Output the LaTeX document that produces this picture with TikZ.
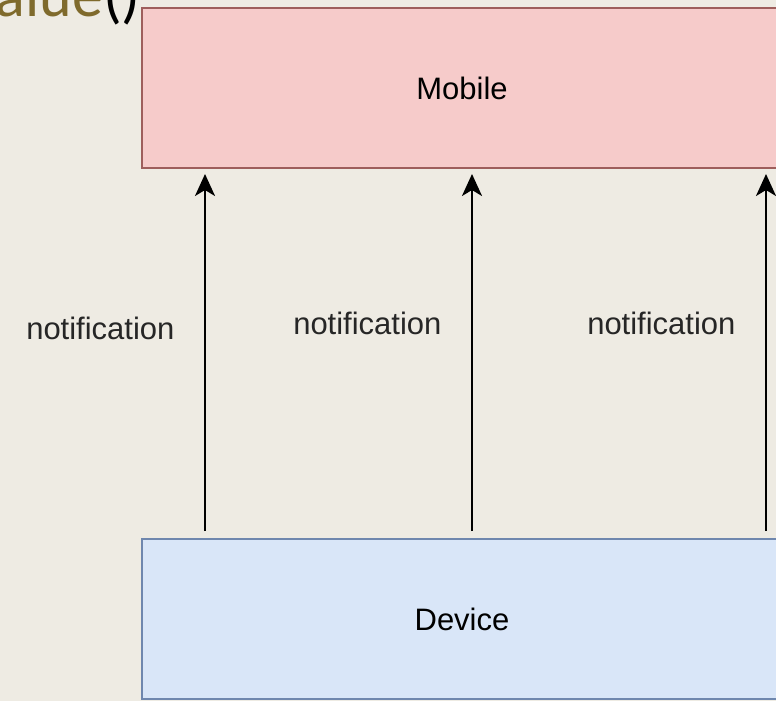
\documentclass[tikz,border=0pt]{standalone}
\usepackage{fontspec}
\setmainfont{Liberation Sans}
\newfontfamily\slidefont{Carlito}
\usetikzlibrary{arrows.meta,positioning}
\definecolor{slide}{HTML}{EEEBE3}
\definecolor{olive}{HTML}{7F6A2C}
\definecolor{mobfill}{HTML}{F6CBCA}
\definecolor{mobline}{HTML}{9E5E5C}
\definecolor{devfill}{HTML}{D9E6F8}
\definecolor{devline}{HTML}{6F87AE}
\tikzset{
  box/.style={line width=2pt, minimum width=640pt, minimum height=160pt, inner sep=0pt,
    font=\fontsize{31}{36}\selectfont},
  mob/.style={box, draw=mobline, fill=mobfill},
  dev/.style={box, draw=devline, fill=devfill},
  flow/.style={draw=black, line width=2.5pt,
    -{Stealth[length=22pt, width=20pt, inset=6pt]},
    shorten <=7pt, shorten >=5pt},
  lab/.style={anchor=east, text=black!85, font=\fontsize{31}{36}\selectfont},
}

\begin{document}
\begin{tikzpicture}[x=1pt, y=-1pt]
  \fill[slide] (0,0) rectangle (776,701);
  \useasboundingbox (0,0) rectangle (776,701);

  % cut-off slide title
  \node[anchor=base east, inner sep=0pt, font=\slidefont\fontsize{62}{70}\selectfont]
    (title) at (141,17) {\textcolor{olive}{alue}()};

  \node[mob] (mobile) at (462,88) {Mobile};
  \node[dev] (device) at (462,619) {Device};

  % notification channels
  \foreach \x/\ly [count=\i] in {205/328, 472/323, 766/323} {
    \coordinate (src\i) at (device.north -| \x,0);
    \coordinate (dst\i) at (mobile.south -| \x,0);
    \draw[flow] (src\i) -- (dst\i);
    \node[lab] (note\i) at (\x-27,\ly) {notification};
  }
\end{tikzpicture}
\end{document}
